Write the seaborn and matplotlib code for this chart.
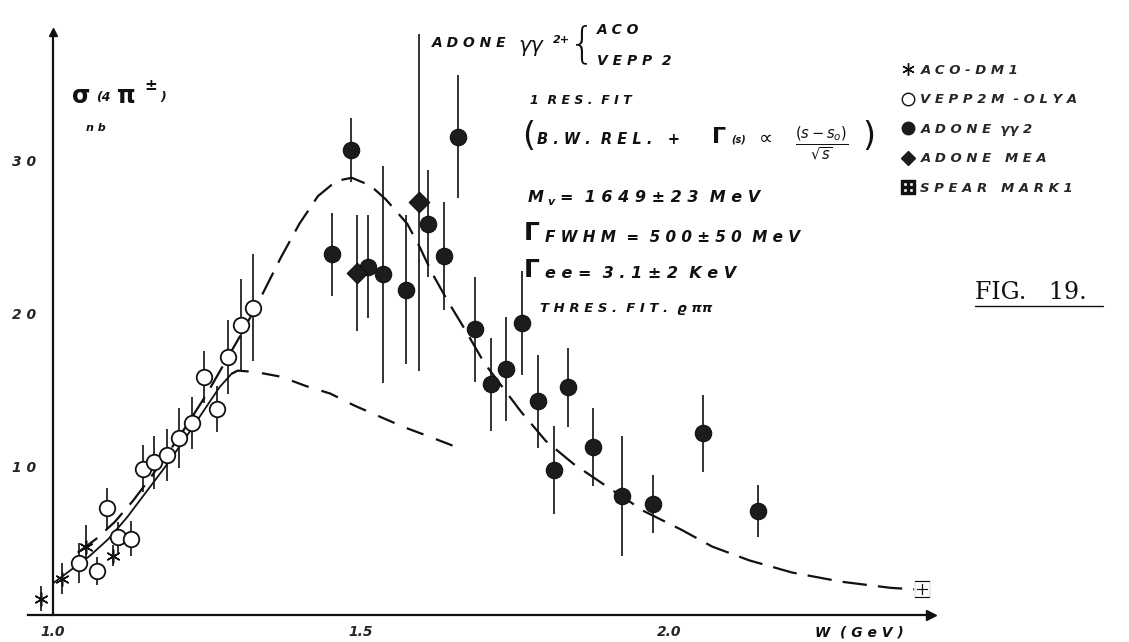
import numpy as np
import pandas as pd
import matplotlib
matplotlib.use("Agg")
import matplotlib.pyplot as plt
from matplotlib.lines import Line2D
from matplotlib.font_manager import FontProperties
import seaborn as sns

# ---- measurements: W (GeV), cross section sigma(4 pi+-) in nb, symmetric error ----
aco_w = [0.981, 1.015, 1.054, 1.097]
aco_s = [1.4, 2.7, 4.8, 4.2]
aco_err = [0.8, 1.0, 1.4, 0.7]

vepp_w = [1.042, 1.071, 1.088, 1.106, 1.127, 1.146, 1.164, 1.185, 1.205, 1.226,
          1.245, 1.266, 1.284, 1.305, 1.325]
vepp_s = [3.7, 3.2, 7.3, 5.4, 5.3, 9.9, 10.3, 10.8, 11.9, 12.9,
          15.9, 13.8, 17.2, 19.3, 20.4]
vepp_err = [1.3, 0.9, 1.35, 1.0, 1.15, 1.55, 1.75, 1.7, 1.95, 1.7,
            1.7, 1.5, 2.4, 3.0, 3.5]

adone_w = [1.453, 1.484, 1.511, 1.536, 1.573, 1.609, 1.635, 1.657, 1.685, 1.711,
           1.735, 1.761, 1.787, 1.813, 1.836, 1.877, 1.924, 1.974, 2.055, 2.144]
adone_s = [23.9, 30.7, 23.1, 22.6, 21.6, 25.9, 23.8, 31.6, 19.0, 15.4,
           16.4, 19.4, 14.3, 9.8, 15.2, 11.3, 8.1, 7.6, 12.2, 7.1]
adone_err = [2.7, 2.1, 3.35, 7.1, 4.85, 3.5, 3.55, 4.05, 3.45, 3.05,
             3.4, 3.4, 3.05, 2.85, 2.6, 2.55, 3.95, 1.9, 2.5, 1.7]

mea_w = [1.494, 1.594]
mea_s = [22.7, 27.3]
mea_err = [3.8, 11.0]

spear_w = [2.411]
spear_s = [2.0]
spear_err = [0.3]

# ---- fitted curves ----
# one-resonance fit (relativistic Breit-Wigner)
fit_w = [1.04, 1.07, 1.10, 1.13, 1.16, 1.19, 1.22, 1.25, 1.28, 1.31, 1.34, 1.37,
         1.40, 1.43, 1.46, 1.485, 1.515, 1.54, 1.575, 1.595, 1.615, 1.64, 1.67,
         1.70, 1.73, 1.76, 1.80, 1.845, 1.90, 1.96, 2.02, 2.07, 2.13, 2.20, 2.28,
         2.36, 2.40]
fit_s = [4.4, 5.3, 6.4, 7.8, 9.4, 11.1, 12.9, 14.8, 16.9, 19.0, 21.3, 23.7,
         25.9, 27.7, 28.7, 28.9, 28.4, 27.5, 25.9, 24.4, 22.7, 20.9, 18.9,
         16.8, 15.2, 13.6, 11.7, 10.2, 8.7, 7.1, 5.9, 4.8, 3.9, 3.1, 2.5,
         2.1, 2.0]
# threshold fit rho pi pi
thr_w = [1.0, 1.03, 1.06, 1.09, 1.12, 1.15, 1.18, 1.21, 1.24, 1.27, 1.29,
         1.30, 1.33, 1.37, 1.41, 1.45, 1.49, 1.53, 1.57, 1.61, 1.655]
thr_s = [2.4, 3.3, 4.2, 5.3, 6.7, 8.3, 9.9, 11.6, 13.4, 15.2, 16.1,
         16.3, 16.2, 15.9, 15.3, 14.8, 14.0, 13.3, 12.6, 12.0, 11.3]

W_PX, H_PX = 1129, 642

sns.set_style("white")
plt.rcParams["font.family"] = ["DejaVu Sans"]

fig = plt.figure(figsize=(W_PX / 100, H_PX / 100), dpi=100)
ax = fig.add_axes([0.02515, 0.04143, 0.7993, 0.9080])
ax.set_xlim(0.96, 2.425)
ax.set_ylim(0.3, 38.4)

ink = "#111111"

# fitted curves
thr = pd.DataFrame({"W": thr_w, "sigma": thr_s})
low = thr[thr["W"] <= 1.29]
high = thr[thr["W"] >= 1.29]
sns.lineplot(data=low, x="W", y="sigma", ax=ax, color=ink, lw=1.3, sort=True)
sns.lineplot(data=high, x="W", y="sigma", ax=ax, color=ink, lw=1.6,
             linestyle=(0, (8, 6)))
sns.lineplot(x=fit_w, y=fit_s, ax=ax, color=ink, lw=1.6, linestyle=(0, (11, 5)))

# error bars
for w, s, e in [(aco_w, aco_s, aco_err), (vepp_w, vepp_s, vepp_err),
                (adone_w, adone_s, adone_err), (mea_w, mea_s, mea_err),
                (spear_w, spear_s, spear_err)]:
    ax.errorbar(w, s, yerr=e, fmt="none", ecolor=ink, elinewidth=1.2,
                capsize=0, clip_on=False)

# markers
asterisk = (6, 2, 0)
sns.scatterplot(x=aco_w, y=aco_s, ax=ax, marker=asterisk, s=90, color=ink,
                linewidth=1.1, clip_on=False, zorder=5)
sns.scatterplot(x=vepp_w, y=vepp_s, ax=ax, marker="o", s=125, facecolor="white",
                edgecolor=ink, linewidth=1.3, clip_on=False, zorder=5)
sns.scatterplot(x=adone_w, y=adone_s, ax=ax, marker="o", s=140, color="#1c1c1c",
                edgecolor=ink, linewidth=0.8, zorder=5)
sns.scatterplot(x=mea_w, y=mea_s, ax=ax, marker="D", s=110, color="#1c1c1c",
                edgecolor=ink, linewidth=0.8, zorder=6)
sns.scatterplot(x=spear_w, y=spear_s, ax=ax, marker=r"$\boxplus$", s=150,
                color=ink, linewidth=0.6, clip_on=False, zorder=5)

# axes drawn as arrows
for side in ("top", "right"):
    ax.spines[side].set_visible(False)
ax.spines["left"].set_position(("data", 1.0))
for side in ("left", "bottom"):
    ax.spines[side].set_linewidth(1.6)
    ax.spines[side].set_color(ink)
ax.plot(1, 0, ">", color=ink, ms=7, transform=ax.transAxes, clip_on=False)
ax.plot(1.0, 1, "^", color=ink, ms=6, transform=ax.get_xaxis_transform(),
        clip_on=False)

tick_font = dict(fontweight="bold", fontstyle="italic", fontsize=10)
ax.set_xticks([1.0, 1.5, 2.0])
ax.set_xticklabels(["1.0", "1.5", "2.0"], **tick_font)
ax.set_yticks([10, 20, 30])
ax.set_yticklabels(["1 0", "2 0", "3 0"], **tick_font)
ax.tick_params(axis="both", direction="in", length=6, width=1.2, color=ink)
ax.tick_params(axis="y", pad=12)
ax.tick_params(axis="x", pad=7)
ax.set_xlabel("")
ax.set_ylabel("")


def put(xp, yp, s, size=9, weight="bold", style="italic", **kw):
    fig.text(xp / W_PX, 1 - yp / H_PX, s, fontsize=size, fontweight=weight,
             fontstyle=style, va="center", ha="left", color=ink, **kw)


# axis titles
put(72, 96, "σ", size=17, style="normal")
put(96, 98, "(4", size=9)
put(117, 96, "π", size=17, style="normal")
put(144, 86, "±", size=11)
put(160, 98, ")", size=9)
put(86, 128, "n b", size=8)
put(815, 633, "W  ( G e V )", size=10)

# fit annotations
put(432, 43, "A D O N E", size=10)
put(518, 46, "γγ", size=15, weight="normal")
put(553, 40, "2+", size=8)
put(569, 45, "{", size=30, weight="light", style="normal")
put(597, 30, "A C O", size=10)
put(597, 61, "V E P P  2", size=10)
put(530, 100, "1  R E S .  F I T", size=9)
put(522, 137, "(", size=24, weight="normal", style="normal")
put(537, 139, "B . W .  R E L .   +", size=10.5)
put(712, 137, "Γ", size=16, style="normal")
put(731, 140, "(s)", size=7)
put(759, 138, "∝", size=14, weight="normal", style="normal")
put(795, 144, r"$\frac{(s-s_o)}{\sqrt{s}}$", size=15)
put(862, 137, ")", size=24, weight="normal", style="normal")
put(528, 197, "M", size=11.5)
put(547, 202, "v", size=8)
put(560, 197, "=  1 6 4 9 ± 2 3  M e V", size=11.5)
put(524, 233, "Γ", size=18, style="normal")
put(545, 237, "F W H M  =  5 0 0 ± 5 0  M e V", size=11)
put(524, 270, "Γ", size=18, style="normal")
put(545, 273, "e e =  3 . 1 ± 2  K e V", size=11.5)
put(540, 308, "T H R E S .  F I T .  ϱ ππ", size=9.5)

# legend
leg_font = FontProperties(family="DejaVu Sans", weight="bold", style="italic",
                          size=9.5)
handles = [
    Line2D([], [], ls="none", marker=asterisk, ms=9, color=ink, mew=1.0),
    Line2D([], [], ls="none", marker="o", ms=9, mfc="white", mec=ink, mew=1.0),
    Line2D([], [], ls="none", marker="o", ms=9, color="#1c1c1c"),
    Line2D([], [], ls="none", marker="D", ms=7, color="#1c1c1c"),
    Line2D([], [], ls="none", marker=r"$\boxplus$", ms=10, color=ink),
]
labels = ["A C O - D M 1", "V E P P 2 M  - O L Y A", "A D O N E  γγ 2",
          "A D O N E   M E A", "S P E A R   M A R K 1"]
fig.legend(handles, labels, loc="upper left",
           bbox_to_anchor=(902 / W_PX, 1 - 64 / H_PX), frameon=False,
           prop=leg_font, labelspacing=1.25, handlelength=0.9,
           handletextpad=0.5, borderpad=0, borderaxespad=0)

# figure caption
fig.text(975 / W_PX, 1 - 292 / H_PX, "FIG.   19.", fontsize=17,
         family="DejaVu Serif", va="center", ha="left", color=ink)
fig.add_artist(Line2D([975 / W_PX, 1103 / W_PX], [1 - 306 / H_PX] * 2,
                      transform=fig.transFigure, color=ink, lw=1.0))

fig.savefig("out.png", dpi=100, facecolor="white")
